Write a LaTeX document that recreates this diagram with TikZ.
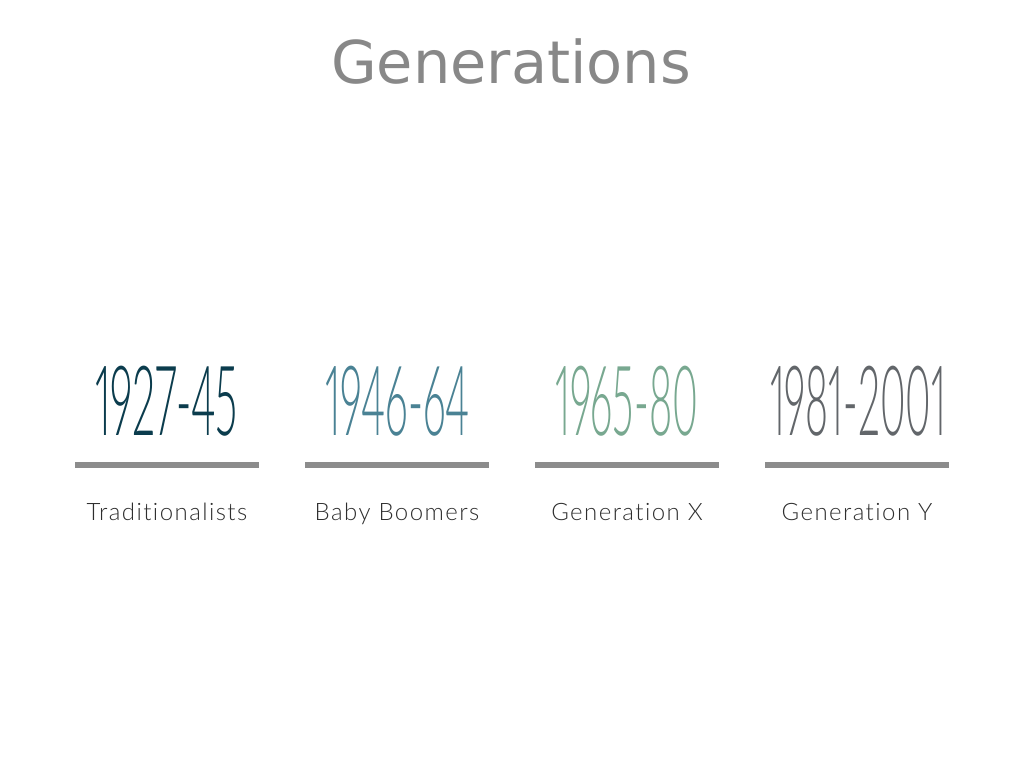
\documentclass[tikz,border=0pt]{standalone}
\usepackage{fontspec}
\usepackage{graphicx}
\newfontfamily\titlefont{DejaVu Sans}
\newfontfamily\latolight{Lato Light}[Ligatures=NoCommon,Numbers=Proportional]
\newfontfamily\latolabel{Lato Light}[Ligatures=NoCommon,LetterSpace=6]
\definecolor{titlegray}{HTML}{888888}
\definecolor{bargray}{HTML}{8C8C8C}
\definecolor{labelgray}{HTML}{2E2E2E}
\definecolor{ycA}{HTML}{0B3C4D}
\definecolor{ycB}{HTML}{4A8294}
\definecolor{ycC}{HTML}{78A890}
\definecolor{ycD}{HTML}{62666A}
\newcommand{\yeartext}[2]{\resizebox{#1pt}{\height}{\fontsize{97}{97}\latolight\selectfont #2}}
\tikzset{
  title/.style={anchor=base, inner sep=0pt, text=titlegray, font=\fontsize{59}{59}\titlefont\selectfont},
  year/.style={anchor=base, inner sep=0pt},
  bar/.style={draw=bargray, line width=6pt},
  gen/.style={anchor=base, inner sep=0pt, text=labelgray, font=\fontsize{24}{24}\latolabel\selectfont}
}
\begin{document}
\begin{tikzpicture}[x=1pt,y=-1pt]
\useasboundingbox (0,0) rectangle (1024,768);
\node[title] (t) at (511,83) {Generations};
\node[year, text=ycA] (y1) at (166.5,435) {\yeartext{143}{1927-45}};
\node[year, text=ycB] (y2) at (397.5,435) {\yeartext{145}{1946-64}};
\node[year, text=ycC] (y3) at (626.5,435) {\yeartext{143}{1965-80}};
\node[year, text=ycD] (y4) at (858,435) {\yeartext{176}{1981-2001}};
\coordinate (b1l) at (75,464.5); \coordinate (b1r) at (259,464.5);
\coordinate (b2l) at (305,464.5); \coordinate (b2r) at (489,464.5);
\coordinate (b3l) at (535,464.5); \coordinate (b3r) at (719,464.5);
\coordinate (b4l) at (765,464.5); \coordinate (b4r) at (949,464.5);
\draw[bar] (b1l) -- (b1r);
\draw[bar] (b2l) -- (b2r);
\draw[bar] (b3l) -- (b3r);
\draw[bar] (b4l) -- (b4r);
\node[gen] (g1) at (167,520) {Traditionalists};
\node[gen] (g2) at (397,520) {Baby Boomers};
\node[gen] (g3) at (627,520) {Generation X};
\node[gen] (g4) at (857,520) {Generation Y};
\end{tikzpicture}
\end{document}
